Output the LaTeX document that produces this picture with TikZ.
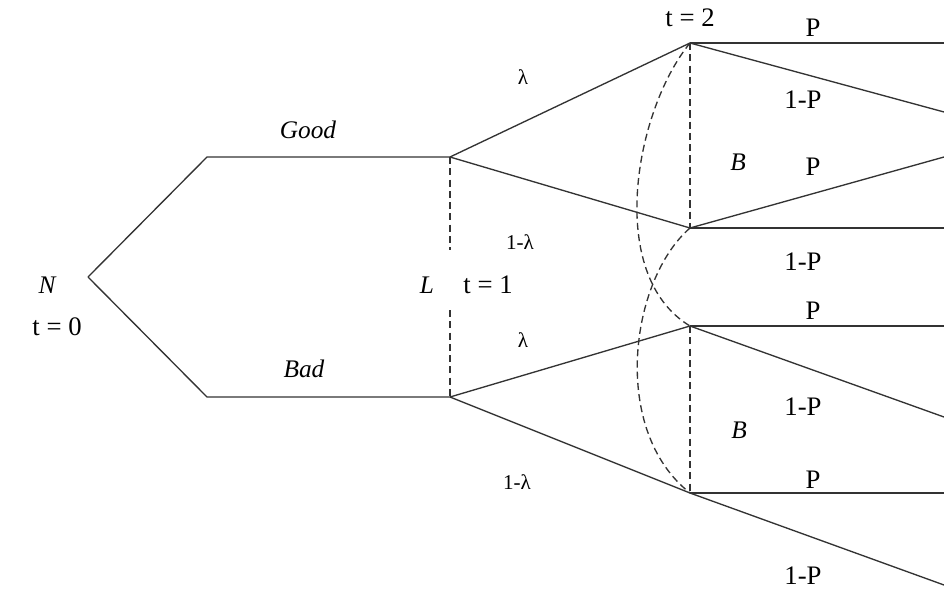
\documentclass[tikz,border=0pt]{standalone}
\usepackage{fontspec}
\setmainfont{Liberation Serif}
\usetikzlibrary{positioning}

\begin{document}
\begin{tikzpicture}[
    x=0.025cm, y=-0.025cm,
    branch/.style={draw=black!80, line width=0.95pt},
    infoset/.style={draw=black!80, line width=0.95pt, dash pattern=on 5pt off 3pt},
    prob/.style={font=\fontsize{19}{22}\selectfont},
    lam/.style={font=\fontsize{15}{18}\selectfont},
    state/.style={font=\fontsize{18}{21}\selectfont\itshape},
]
\useasboundingbox (0,0) rectangle (944,592);
\clip (0,0) rectangle (944,592);

% =====================================================================
% Decision points of the tree
% =====================================================================
\coordinate (root) at (88,277);
\coordinate (goodknee) at (207,157);
\coordinate (good) at (450,157);
\coordinate (badknee) at (207,397);
\coordinate (bad) at (450,397);
\coordinate (gapTop) at (450,250);
\coordinate (gapBot) at (450,310);

\coordinate (ggood) at (690,43);
\coordinate (gbad) at (690,228);
\coordinate (bgood) at (690,326);
\coordinate (bbad) at (690,493);

% ends at the right border (cut off)
\coordinate (endA) at (944,43);
\coordinate (endB) at (944,112);
\coordinate (endC) at (944,157);
\coordinate (endD) at (944,228);
\coordinate (endE) at (944,326);
\coordinate (endF) at (944,417);
\coordinate (endG) at (944,493);
\coordinate (endH) at (944,585);

% =====================================================================
% t = 0 -> t = 1
% =====================================================================
\draw[branch] (root) -- (goodknee) -- (good);
\draw[branch] (root) -- (badknee) -- (bad);
\draw[infoset] (good) -- (gapTop);
\draw[infoset] (gapBot) -- (bad);

% t = 1 -> t = 2
\draw[branch] (good) -- (ggood);
\draw[branch] (good) -- (gbad);
\draw[branch] (bad) -- (bgood);
\draw[branch] (bad) -- (bbad);

% information sets at t = 2
\draw[infoset] (ggood) -- (gbad);
\draw[infoset] (bgood) -- (bbad);
\draw[infoset] (ggood) .. controls (635,110) and (605,275) .. (bgood);
\draw[infoset] (gbad) .. controls (630,280) and (610,430) .. (bbad);

% t = 2 -> outcomes
\draw[branch] (ggood) -- (endA);
\draw[branch] (ggood) -- (endB);
\draw[branch] (gbad) -- (endC);
\draw[branch] (gbad) -- (endD);
\draw[branch] (bgood) -- (endE);
\draw[branch] (bgood) -- (endF);
\draw[branch] (bbad) -- (endG);
\draw[branch] (bbad) -- (endH);

% =====================================================================
% Labels
% =====================================================================
\node[state] (Nlab) at (47,285) {N};
\node[prob] (t0) at (57,327) {t = 0};
\node[state] (goodlab) at (308,130) {Good};
\node[state] (badlab) at (304,369) {Bad};
\node[state] (Llab) at (427,285) {L};
\node[prob] (t1) at (488,285) {t = 1};

\node[lam] (lam1) at (523,77) {λ};
\node[lam] (mlam1) at (520,242) {1-λ};
\node[lam] (lam2) at (523,340) {λ};
\node[lam] (mlam2) at (517,482) {1-λ};

\node[prob] (t2) at (690,18) {t = 2};
\node[state] (B1) at (738,162) {B};
\node[state] (B2) at (739,430) {B};

\node[prob] (pA) at (813,28) {P};
\node[prob] (qA) at (803,100) {1-P};
\node[prob] (pB) at (813,167) {P};
\node[prob] (qB) at (803,262) {1-P};
\node[prob] (pC) at (813,311) {P};
\node[prob] (qC) at (803,407) {1-P};
\node[prob] (pD) at (813,480) {P};
\node[prob] (qD) at (803,576) {1-P};

\end{tikzpicture}
\end{document}
